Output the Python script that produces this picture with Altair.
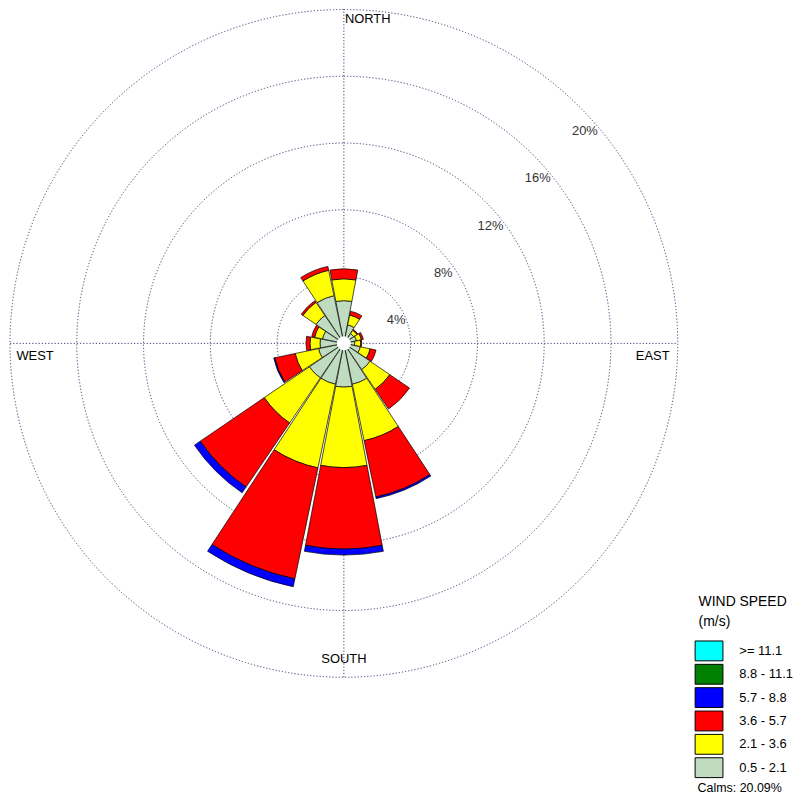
import math
import altair as alt
import numpy as np
import pandas as pd

# ---------------- data ----------------
directions = ["N", "NNE", "NE", "ENE", "E", "ESE", "SE", "SSE",
              "S", "SSW", "SW", "WSW", "W", "WNW", "NW", "NNW"]
dir_angles = [0, 22.5, 45, 67.5, 90, 112.5, 135, 157.5,
              180, 202.5, 225, 247.5, 270, 292.5, 315, 337.5]

# frequency (%) per direction for each wind speed class
speed_05_21 = [2.56, 1.13, 0.71, 0.77, 0.65, 1.01, 1.90, 2.50,
               2.62, 2.50, 2.50, 1.55, 1.43, 1.31, 2.02, 2.92]
speed_21_36 = [1.31, 0.60, 0.24, 0.30, 0.36, 0.60, 1.43, 3.45,
               4.82, 5.12, 3.27, 1.43, 0.60, 0.48, 0.95, 1.55]
speed_36_57 = [0.60, 0.24, 0.06, 0.12, 0.06, 0.36, 1.43, 3.45,
               4.88, 6.79, 4.64, 1.25, 0.24, 0.18, 0.12, 0.24]
speed_57_88 = [0.00, 0.00, 0.00, 0.00, 0.00, 0.00, 0.00, 0.10,
               0.36, 0.48, 0.42, 0.06, 0.00, 0.00, 0.00, 0.00]
speed_88_111 = [0.0] * 16
speed_ge_111 = [0.0] * 16

class_labels = ["0.5 - 2.1", "2.1 - 3.6", "3.6 - 5.7", "5.7 - 8.8", "8.8 - 11.1", ">= 11.1"]
class_colors = ["#C0DCC0", "#FFFF00", "#FF0000", "#0000FF", "#008000", "#00FFFF"]

ring_values = [4, 8, 12, 16, 20]
ring_labels = ["4%", "8%", "12%", "16%", "20%"]
compass_labels = ["NORTH", "SOUTH", "WEST", "EAST"]
calms_text = "Calms: 20.09%"

# ---------------- layout ----------------
W, H = 790, 790
CX, CY = 338, 335          # centre of the rose (plot coords)
R_PX = 336                 # pixel radius of 20 %
R_MAX = 20
HALF = 10.75               # half width of each wedge, degrees
GRID = "#3C3C78"
FONT = "Liberation Sans"

series = [speed_05_21, speed_21_36, speed_36_57, speed_57_88, speed_88_111, speed_ge_111]
rows = []
for i, d in enumerate(directions):
    cum = 0.0
    for k, lab in enumerate(class_labels):
        v = series[k][i]
        if v <= 0:
            continue
        a = dir_angles[i] + 360
        rows.append({
            "direction": d, "speed": lab,
            "r0": cum, "r1": cum + v, "pct": v,
            "t0": math.radians(a - HALF), "t1": math.radians(a + HALF),
        })
        cum += v
bars = pd.DataFrame(rows)

rings = pd.DataFrame({"r": ring_values, "label": ring_labels})
rings["lx"] = rings["r"] * math.cos(math.radians(45))
rings["ly"] = rings["r"] * math.sin(math.radians(45))

axes_df = pd.DataFrame({"x": [-R_MAX, 0], "x2": [R_MAX, 0], "y": [0, -R_MAX], "y2": [0, R_MAX]})
compass_df = pd.DataFrame({
    "label": compass_labels,
    "x": [1.43, 0.0, -18.5, 18.5],
    "y": [19.45, -18.93, -0.77, -0.77],
})
hole_df = pd.DataFrame({"r": [0.42]})
calms_df = pd.DataFrame({"label": [calms_text]})

xs = alt.Scale(domain=[-R_MAX, R_MAX], range=[CX - R_PX, CX + R_PX])
ys = alt.Scale(domain=[-R_MAX, R_MAX], range=[CY + R_PX, CY - R_PX])
rs = alt.Scale(type="linear", domain=[0, R_MAX], range=[0, R_PX], zero=True)
cs = alt.Scale(domain=list(reversed(class_labels)), range=list(reversed(class_colors)))

TWO_PI = 2 * math.pi

grid_circles = alt.Chart(rings).mark_arc(
    filled=False, stroke=GRID, strokeWidth=1, strokeDash=[1.2, 2], theta=0, theta2=TWO_PI
).encode(
    radius=alt.Radius("r:Q", scale=rs, stack=None),
    x=alt.value(CX), y=alt.value(CY),
)

cross = alt.Chart(axes_df).mark_rule(color=GRID, strokeWidth=1, strokeDash=[1.2, 2]).encode(
    x=alt.X("x:Q", scale=xs, axis=None), x2="x2:Q",
    y=alt.Y("y:Q", scale=ys, axis=None), y2="y2:Q",
)

wedges = alt.Chart(bars).mark_arc(stroke="black", strokeWidth=0.7).encode(
    theta=alt.Theta("t0:Q", scale=None, stack=None), theta2="t1:Q",
    radius=alt.Radius("r1:Q", scale=rs, stack=None), radius2="r0:Q",
    fill=alt.Fill("speed:N", scale=cs, legend=alt.Legend(
        title=["WIND SPEED", "(m/s)"], orient="none", legendX=695, legendY=588,
        symbolType="M-1.4,-1H1.4V1H-1.4Z", symbolSize=400,
        symbolStrokeColor="black", symbolStrokeWidth=1, symbolOpacity=1,
        labelFontSize=13, labelFont=FONT, labelColor="black", labelOffset=20,
        titleFontSize=14, titleFont=FONT, titleFontWeight="normal", titleColor="black",
        titleLineHeight=20, titlePadding=12, rowPadding=-1.5, padding=0,
    )),
    x=alt.value(CX), y=alt.value(CY),
    tooltip=["direction:N", "speed:N", "pct:Q"],
)

hole = alt.Chart(hole_df).mark_arc(fill="white", theta=0, theta2=TWO_PI).encode(
    radius=alt.Radius("r:Q", scale=rs, stack=None),
    x=alt.value(CX), y=alt.value(CY),
)

ring_text = alt.Chart(rings).mark_text(
    font=FONT, fontSize=13, color="#333333", dx=5, dy=24
).encode(
    x=alt.X("lx:Q", scale=xs, axis=None), y=alt.Y("ly:Q", scale=ys, axis=None), text="label:N"
)

compass_text = alt.Chart(compass_df).mark_text(font=FONT, fontSize=13, color="black").encode(
    x=alt.X("x:Q", scale=xs, axis=None), y=alt.Y("y:Q", scale=ys, axis=None), text="label:N"
)

calms = alt.Chart(calms_df).mark_text(
    font=FONT, fontSize=12.5, color="black", align="left"
).encode(x=alt.value(694), y=alt.value(782), text="label:N")

chart = alt.layer(grid_circles, cross, wedges, hole, ring_text, compass_text, calms).properties(
    width=W, height=H, padding=0, autosize=alt.AutoSizeParams(type="none"),
).configure_view(stroke=None)

chart.save("out.html", embed_options={"renderer": "svg", "actions": False})
